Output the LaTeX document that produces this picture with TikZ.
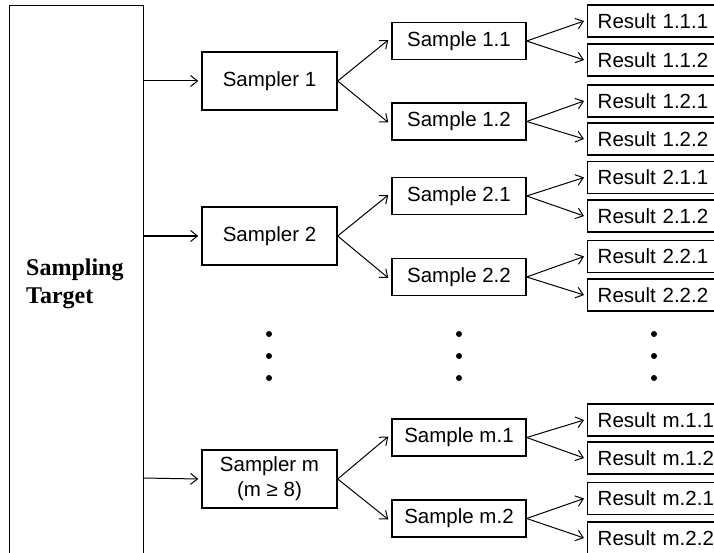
\documentclass[tikz,border=0pt]{standalone}
\usepackage{fontspec}
\setmainfont{Liberation Sans}
\newfontfamily\serifbf{Liberation Serif}
\usetikzlibrary{arrows.meta}
\tikzset{
  box/.style={draw, line width=1.4pt, inner sep=0pt, font=\fontsize{20.5}{24}\selectfont},
  sampler/.style={box, minimum width=135pt, minimum height=58pt, align=center},
  sample/.style={box, minimum width=134pt, minimum height=37pt},
  result/.style={box, anchor=west, minimum width=150pt, minimum height=32pt, text width=130pt, align=left, inner xsep=10pt},
  arr/.style={draw, line width=1pt, -{Straight Barb[length=7pt,width=11pt,line width=1pt]}},
  dot/.style={circle, fill, inner sep=0pt, minimum size=6pt}
}
\begin{document}
\begin{tikzpicture}[x=1pt,y=-1pt]
\useasboundingbox (0,0) rectangle (714,553);
\node[draw, line width=1.4pt, minimum width=134pt, minimum height=560pt, inner sep=0pt, anchor=north west] (target) at (9,5) {};
\node[anchor=west, align=left, font=\serifbf\bfseries\fontsize{24}{28}\selectfont, inner sep=0pt] (tlabel) at (26,284) {Sampling\\Target};

\node[sampler] (s1) at (269.5,81) {Sampler 1};
\node[sampler] (s2) at (269.5,236) {Sampler 2};
\node[sampler, font=\fontsize{20.5}{25}\selectfont] (sm) at (269.5,479) {Sampler m\\(m ≥ 8)};

\coordinate (t1) at (143,81);
\coordinate (t2) at (143,236);
\coordinate (tm) at (143,478);
\draw[arr] (t1) -- ([xshift=-3pt]s1.west);
\draw[arr, line width=1.6pt] (t2) -- ([xshift=-3pt]s2.west);
\draw[arr] (tm) -- ([xshift=-3pt]sm.west);

\node[sample] (a11) at (459,41) {Sample 1.1};
\node[sample] (a12) at (459,121.5) {Sample 1.2};
\node[sample] (a21) at (459,196) {Sample 2.1};
\node[sample] (a22) at (459,277) {Sample 2.2};
\node[sample] (am1) at (459,437.5) {Sample m.1};
\node[sample] (am2) at (459,518.5) {Sample m.2};

\foreach \s/\a/\b in {s1/a11/a12, s2/a21/a22, sm/am1/am2}{
  \draw[arr] (\s.east) -- ([xshift=-3pt,yshift=1pt]\a.west);
  \draw[arr] (\s.east) -- ([xshift=-3pt,yshift=-1pt]\b.west);
}

\node[result] (r111) at (587,21) {Result 1.1.1};
\node[result] (r112) at (587,60) {Result 1.1.2};
\node[result] (r121) at (587,101) {Result 1.2.1};
\node[result] (r122) at (587,139) {Result 1.2.2};
\node[result] (r211) at (587,177.5) {Result 2.1.1};
\node[result] (r212) at (587,216) {Result 2.1.2};
\node[result] (r221) at (587,256.5) {Result 2.2.1};
\node[result] (r222) at (587,295) {Result 2.2.2};
\node[result] (rm11) at (587,420) {Result m.1.1};
\node[result] (rm12) at (587,458) {Result m.1.2};
\node[result] (rm21) at (587,498.5) {Result m.2.1};
\node[result] (rm22) at (587,538) {Result m.2.2};

\foreach \a/\b/\c in {a11/r111/r112, a12/r121/r122, a21/r211/r212, a22/r221/r222, am1/rm11/rm12, am2/rm21/rm22}{
  \draw[arr] (\a.east) -- ([xshift=-3pt]\b.west);
  \draw[arr] (\a.east) -- ([xshift=-3pt]\c.west);
}

\foreach \x/\n in {269/p, 459/q, 654/r}{
  \node[dot] (\n1) at (\x,334) {};
  \node[dot] (\n2) at (\x,356) {};
  \node[dot] (\n3) at (\x,378) {};
}
\end{tikzpicture}
\end{document}
